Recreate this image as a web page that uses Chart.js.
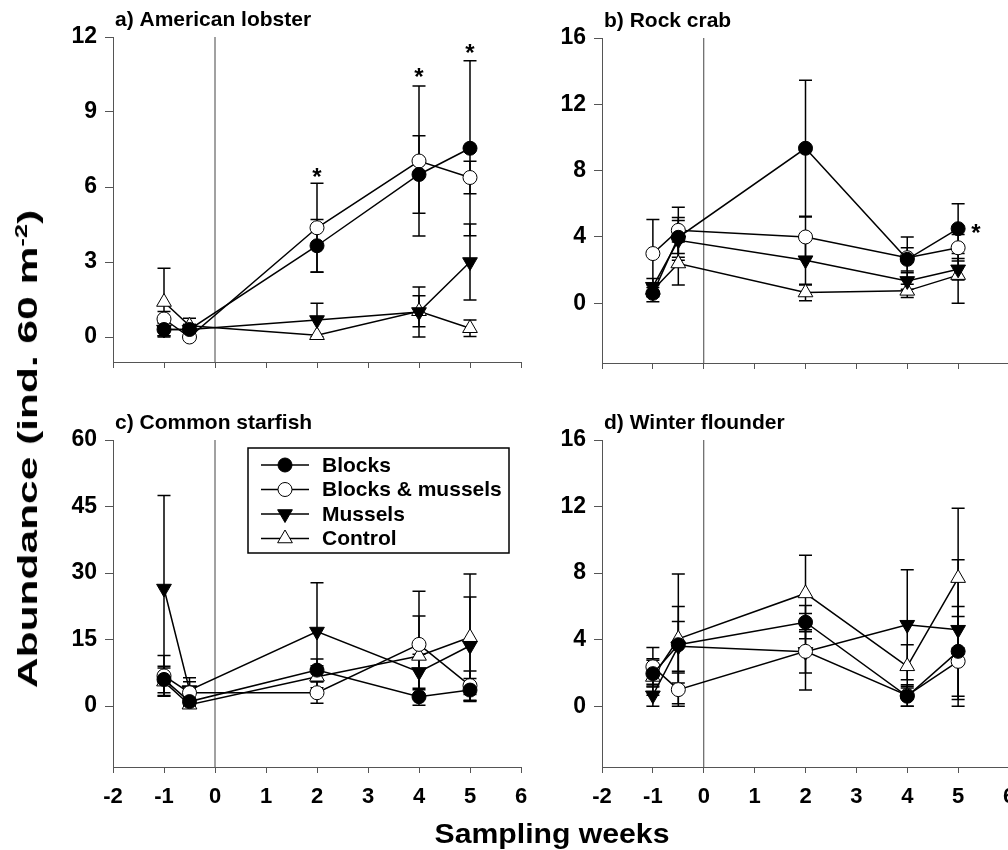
<!DOCTYPE html>
<html>
<head>
<meta charset="utf-8">
<script src="https://cdn.jsdelivr.net/npm/chart.js@4.4.1/dist/chart.umd.min.js"></script>
<style>
  html, body { margin: 0; padding: 0; background: #fff; overflow: hidden; }
  #wrap { position: relative; width: 1008px; height: 850px; overflow: hidden; }
  #wrap canvas { position: absolute; left: 0; top: 0; }
  .axtitle {
    position: absolute; white-space: nowrap; color: #000; line-height: 1;
    font-family: 'Liberation Sans', Arial, sans-serif; font-weight: bold;
    transform-origin: 50% 50%;
  }
  .axtitle sup { font-size: 60%; position: relative; top: -0.6em; vertical-align: baseline; }
  #ytitle { font-size: 28px; left: 28px; top: 449px; }
  #xtitle { font-size: 28px; left: 552px; top: 834px; }
</style>
</head>
<body>
<div id="wrap">
  <canvas id="pa" width="1040" height="850"></canvas>
  <canvas id="pb" width="1040" height="850"></canvas>
  <canvas id="pc" width="1040" height="850"></canvas>
  <canvas id="pd" width="1040" height="850"></canvas>
  <div id="ytitle" class="axtitle">Abundance (ind. 60 m<sup>-2</sup>)</div>
  <div id="xtitle" class="axtitle">Sampling weeks</div>
</div>
<script>
// sampling weeks (x positions of the points)
const weeks = [-1, -0.5, 2, 4, 5];
const xTicks = [-2, -1, 0, 1, 2, 3, 4, 5, 6];
const treatments = ['Blocks', 'Blocks & mussels', 'Mussels', 'Control'];

// a) American lobster
const blocksA = [0.3, 0.3, 3.65, 6.5, 7.55];
const blocksAErr = [0.3, 0.2, 1.05, 1.55, 3.5];
const bmA = [0.72, 0.0, 4.37, 7.04, 6.38];
const bmAErr = [0.3, 0, 1.78, 3.0, 0.65];
const musA = [0.3, 0.3, 0.68, 1.0, 3.0];
const musAErr = [0.25, 0.2, 0.67, 1.0, 1.52];
const ctrlA = [1.4, 0.45, 0.07, 1.03, 0.35];
const ctrlAErr = [1.35, 0.3, 0, 0.62, 0.33];
const yTicksA = [0, 3, 6, 9, 12];
const starsAx = [2, 4, 5];
const starsAy = [6.6, 10.6, 11.55];

// b) Rock crab
const blocksB = [0.6, 3.98, 9.35, 2.65, 4.5];
const blocksBErr = [0.5, 1.2, 4.1, 0.7, 1.5];
const bmB = [3.0, 4.4, 4.0, 2.75, 3.35];
const bmBErr = [2.05, 1.4, 1.2, 1.25, 0.8];
const musB = [1.0, 3.8, 2.6, 1.35, 2.05];
const musBErr = [0.5, 1.2, 1.5, 0.5, 0.65];
const ctrlB = [0.8, 2.4, 0.65, 0.75, 1.7];
const ctrlBErr = [0.4, 1.3, 0.5, 0.4, 1.7];
const yTicksB = [0, 4, 8, 12, 16];
const starsBx = [5.35];
const starsBy = [4.5];

// c) Common starfish
const blocksC = [6.0, 1.0, 8.1, 2.1, 3.6];
const blocksCErr = [3.0, 0.8, 2.5, 1.9, 2.6];
const bmC = [6.8, 3.0, 3.0, 13.9, 4.6];
const bmCErr = [4.6, 2.5, 2.4, 12.0, 3.3];
const musC = [26.5, 3.6, 16.8, 7.7, 13.6];
const musCErr = [21.0, 2.8, 11.0, 4.0, 11.0];
const ctrlC = [5.5, 0.3, 6.6, 11.3, 15.5];
const ctrlCErr = [3.1, 0.3, 2.5, 9.0, 14.3];
const yTicksC = [0, 15, 30, 45, 60];

// d) Winter flounder
const blocksD = [1.96, 3.7, 5.05, 0.6, 3.3];
const blocksDErr = [0.8, 2.3, 1.0, 0.6, 2.7];
const bmD = [2.37, 1.0, 3.3, 0.65, 2.7];
const bmDErr = [1.16, 1.0, 1.3, 0.65, 2.7];
const musD = [0.66, 3.6, 3.27, 4.9, 4.6];
const musDErr = [0.66, 1.5, 2.3, 3.3, 4.2];
const ctrlD = [1.76, 4.05, 6.78, 2.4, 7.7];
const ctrlDErr = [1.1, 3.9, 2.3, 1.3, 4.2];
const yTicksD = [0, 4, 8, 12, 16];

const FONT = "'Liberation Sans', Arial, sans-serif";
const CW = 1040, CH = 850;
const Y_W = 60, X_H = 50;
const AXIS_COL = '#555';

// marker look for each treatment
const markers = [
  { pointStyle: 'circle', radius: 7, rotation: 0, fill: '#000' },
  { pointStyle: 'circle', radius: 7, rotation: 0, fill: '#fff' },
  { pointStyle: 'triangle', radius: 8.5, rotation: 180, fill: '#000' },
  { pointStyle: 'triangle', radius: 8.5, rotation: 0, fill: '#fff' }
];

const errorBars = {
  id: 'errorBars',
  beforeDatasetsDraw(chart) {
    const { ctx, scales: { x, y } } = chart;
    ctx.save();
    ctx.strokeStyle = '#000';
    ctx.lineWidth = 1.5;
    chart.data.datasets.forEach(ds => {
      if (!ds.errors) return;
      ds.data.forEach((p, j) => {
        const e = ds.errors[j];
        if (!e) return;
        const px = x.getPixelForValue(p.x);
        const hi = y.getPixelForValue(p.y + e);
        const lo = y.getPixelForValue(p.y - e);
        ctx.beginPath();
        ctx.moveTo(px, hi); ctx.lineTo(px, lo);
        ctx.moveTo(px - 6.5, hi); ctx.lineTo(px + 6.5, hi);
        ctx.moveTo(px - 6.5, lo); ctx.lineTo(px + 6.5, lo);
        ctx.stroke();
      });
    });
    ctx.restore();
  }
};

const panelText = {
  id: 'panelText',
  afterDraw(chart, args, opts) {
    const { ctx, chartArea, scales: { x, y } } = chart;
    ctx.save();
    ctx.fillStyle = '#000';
    ctx.font = 'bold 21px ' + FONT;
    ctx.textBaseline = 'middle';
    ctx.textAlign = 'left';
    ctx.fillText(opts.title, chartArea.left + 2, chartArea.top - 17);
    // significance stars
    ctx.font = 'bold 24px ' + FONT;
    ctx.textAlign = 'center';
    ctx.textBaseline = 'alphabetic';
    const m = ctx.measureText('*');
    (opts.starsX || []).forEach((sx, i) => {
      const px = x.getPixelForValue(sx);
      const py = y.getPixelForValue(opts.starsY[i]);
      ctx.fillText('*', px, py + (m.actualBoundingBoxAscent - m.actualBoundingBoxDescent) / 2);
    });
    ctx.restore();
  }
};

const boxLegend = {
  id: 'boxLegend',
  afterDraw(chart, args, opts) {
    if (!opts.show) return;
    const { ctx, chartArea } = chart;
    const bx = chartArea.left + 135, by = chartArea.top + 8, bw = 261, bh = 105;
    ctx.save();
    ctx.fillStyle = '#fff';
    ctx.fillRect(bx, by, bw, bh);
    ctx.strokeStyle = '#000';
    ctx.lineWidth = 1.5;
    ctx.strokeRect(bx, by, bw, bh);
    ctx.font = 'bold 21px ' + FONT;
    ctx.textBaseline = 'middle';
    ctx.textAlign = 'left';
    treatments.forEach((name, i) => {
      const ry = by + 17 + i * 24.5;
      const mk = markers[i];
      ctx.strokeStyle = '#000';
      ctx.lineWidth = 1.5;
      ctx.beginPath();
      ctx.moveTo(bx + 13, ry); ctx.lineTo(bx + 61, ry);
      ctx.stroke();
      ctx.fillStyle = mk.fill;
      ctx.lineWidth = 1;
      Chart.helpers.drawPoint(ctx, { pointStyle: mk.pointStyle, radius: mk.radius, rotation: mk.rotation, borderWidth: 1 }, bx + 37, ry);
      ctx.fillStyle = '#000';
      ctx.fillText(name, bx + 74, ry + 1);
    });
    ctx.restore();
  }
};

function pts(vals) {
  return vals.map((v, i) => ({ x: weeks[i], y: v }));
}

function makePanel(id, box, yMin, yMax, yTicks, series, errs, title, showX, starsX, starsY, showLegend) {
  const datasets = series.map((vals, i) => ({
    label: treatments[i],
    data: pts(vals),
    errors: errs[i],
    borderColor: '#000',
    borderWidth: 1.5,
    tension: 0,
    pointStyle: markers[i].pointStyle,
    pointRadius: markers[i].radius,
    pointRotation: markers[i].rotation,
    pointBackgroundColor: markers[i].fill,
    pointBorderColor: '#000',
    pointBorderWidth: 1
  }));
  // reference line at week 0
  datasets.push({
    data: [{ x: 0, y: yMin }, { x: 0, y: yMax }],
    borderColor: '#444',
    borderWidth: 1,
    pointRadius: 0
  });

  new Chart(document.getElementById(id), {
    type: 'line',
    data: { datasets },
    plugins: [errorBars, panelText, boxLegend],
    options: {
      responsive: false,
      animation: false,
      events: [],
      layout: {
        autoPadding: false,
        padding: { left: box.left - Y_W, top: box.top, right: CW - box.right, bottom: CH - box.bottom - X_H }
      },
      plugins: {
        legend: { display: false },
        tooltip: { enabled: false },
        panelText: { title, starsX, starsY },
        boxLegend: { show: showLegend }
      },
      scales: {
        x: {
          type: 'linear', min: -2, max: 6,
          afterBuildTicks: s => { s.ticks = xTicks.map(v => ({ value: v })); },
          afterFit: s => { s.height = X_H; },
          ticks: {
            color: '#000', padding: 11,
            font: { family: FONT, size: 22, weight: 'bold' },
            callback: v => showX ? String(v) : ''
          },
          grid: { drawOnChartArea: false, drawTicks: true, tickLength: 6, color: AXIS_COL },
          border: { display: true, color: AXIS_COL, width: 1 }
        },
        y: {
          type: 'linear', min: yMin, max: yMax,
          afterBuildTicks: s => { s.ticks = yTicks.map(v => ({ value: v })); },
          afterFit: s => { s.width = Y_W; },
          ticks: {
            color: '#000', padding: 8,
            font: { family: FONT, size: 23, weight: 'bold' }
          },
          grid: { drawOnChartArea: false, drawTicks: true, tickLength: 8, color: AXIS_COL },
          border: { display: true, color: AXIS_COL, width: 1 }
        }
      }
    }
  });
}

makePanel('pa', { left: 113, right: 521, top: 37, bottom: 362 }, -1, 12, yTicksA,
  [blocksA, bmA, musA, ctrlA], [blocksAErr, bmAErr, musAErr, ctrlAErr],
  'a) American lobster', false, starsAx, starsAy, false);
makePanel('pb', { left: 602, right: 1009, top: 38, bottom: 363 }, -3.6, 16, yTicksB,
  [blocksB, bmB, musB, ctrlB], [blocksBErr, bmBErr, musBErr, ctrlBErr],
  'b) Rock crab', false, starsBx, starsBy, false);
makePanel('pc', { left: 113, right: 521, top: 440, bottom: 767 }, -13.75, 60, yTicksC,
  [blocksC, bmC, musC, ctrlC], [blocksCErr, bmCErr, musCErr, ctrlCErr],
  'c) Common starfish', true, [], [], true);
makePanel('pd', { left: 602, right: 1009, top: 440, bottom: 767 }, -3.65, 16, yTicksD,
  [blocksD, bmD, musD, ctrlD], [blocksDErr, bmDErr, musDErr, ctrlDErr],
  'd) Winter flounder', true, [], [], false);

// stretch the shared axis titles to the length they have in the figure
function fitTitle(el, target, rotate) {
  const s = target / el.offsetWidth;
  el.style.transform = 'translate(-50%, -50%)' + (rotate ? ' rotate(-90deg)' : '') + ' scale(' + s + ', 1)';
}
fitTitle(document.getElementById('ytitle'), 478, true);
fitTitle(document.getElementById('xtitle'), 235, false);
</script>
</body>
</html>
